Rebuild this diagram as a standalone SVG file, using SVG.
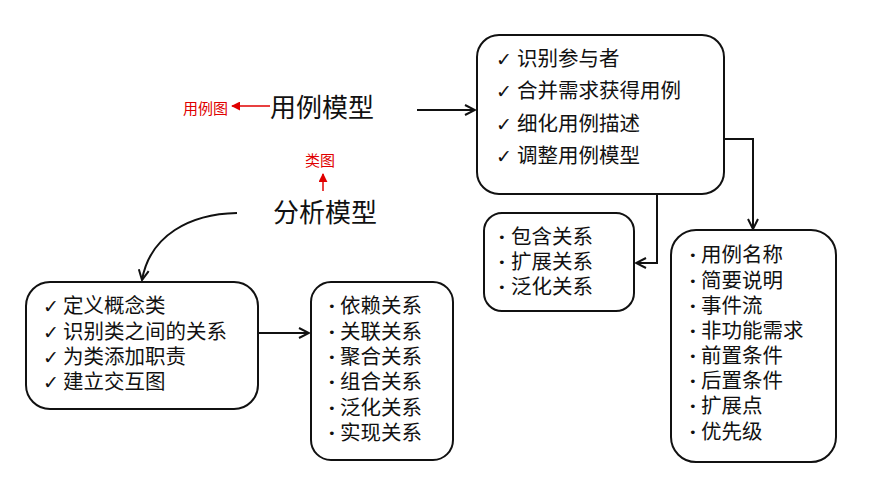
<svg xmlns="http://www.w3.org/2000/svg" width="870" height="485" viewBox="0 0 870 485">
<defs>
<style>
text{font-family:"Liberation Sans","Noto Sans CJK SC",sans-serif;fill:#111}
.item{font-size:20.5px}
.title{font-size:26px}
.red{fill:#e00000;font-size:15px}
.box{fill:#fff;stroke:#111;stroke-width:2}
.conn{fill:none;stroke:#111;stroke-width:2}
.rc{fill:none;stroke:#e00000;stroke-width:1.5}
.mk{font-family:"DejaVu Sans",sans-serif;font-size:19px;font-weight:bold}
.bl{font-family:"DejaVu Sans",sans-serif;font-size:13px}
</style>
<marker id="open" viewBox="0 0 12 12" refX="11" refY="6" markerWidth="12" markerHeight="12" markerUnits="userSpaceOnUse" orient="auto">
<path d="M1,1 L11,6 L1,11" fill="none" stroke="#111" stroke-width="2"/>
</marker>
<marker id="redhead" viewBox="0 0 10 10" refX="9" refY="5" markerWidth="9" markerHeight="9" markerUnits="userSpaceOnUse" orient="auto">
<path d="M0,0 L10,5 L0,10 Z" fill="#e00000"/>
</marker>
</defs>
<rect width="870" height="485" fill="#fff"/>

<g id="connectors">
<line class="conn" x1="417" y1="110" x2="475" y2="110" marker-end="url(#open)"/>
<polyline class="conn" points="513,139 753,139 753,229" marker-end="url(#open)"/>
<polyline class="conn" points="522,176 657,176 657,263 636,263" marker-end="url(#open)"/>
<path class="conn" d="M237,213 C190,214 150,235 142,280" marker-end="url(#open)"/>
<line class="conn" x1="243" y1="333" x2="309" y2="333" marker-end="url(#open)"/>
<line class="rc" x1="270" y1="106" x2="232" y2="106" marker-end="url(#redhead)"/>
<line class="rc" x1="323" y1="191" x2="323" y2="174" marker-end="url(#redhead)"/>
</g>

<g id="usecase-model">
<text class="title" x="270" y="117">用例模型</text>
</g>
<g id="usecase-diagram">
<text class="red" x="183" y="114">用例图</text>
</g>
<g id="class-diagram">
<text class="red" x="305" y="166">类图</text>
</g>
<g id="analysis-model">
<text class="title" x="273" y="222">分析模型</text>
</g>

<g id="box-usecase-steps">
<rect class="box" x="477" y="35" width="247" height="159" rx="22"/>
<text class="item">
<tspan class="mk" x="496" y="66">✓</tspan><tspan x="517" y="66">识别参与者</tspan>
<tspan class="mk" x="496" y="98">✓</tspan><tspan x="517" y="98">合并需求获得用例</tspan>
<tspan class="mk" x="496" y="131">✓</tspan><tspan x="517" y="131">细化用例描述</tspan>
<tspan class="mk" x="496" y="163">✓</tspan><tspan x="517" y="163">调整用例模型</tspan>
</text>
</g>

<g id="box-usecase-relations">
<rect class="box" x="484" y="213" width="150" height="98" rx="18"/>
<text class="item">
<tspan class="bl" x="498" y="242">•</tspan><tspan x="511" y="244">包含关系</tspan>
<tspan class="bl" x="498" y="267">•</tspan><tspan x="511" y="269">扩展关系</tspan>
<tspan class="bl" x="498" y="292">•</tspan><tspan x="511" y="294">泛化关系</tspan>
</text>
</g>

<g id="box-usecase-desc">
<rect class="box" x="671" y="230" width="165" height="232" rx="25"/>
<text class="item">
<tspan class="bl" x="689" y="260">•</tspan><tspan x="701" y="262">用例名称</tspan>
<tspan class="bl" x="689" y="286">•</tspan><tspan x="701" y="288">简要说明</tspan>
<tspan class="bl" x="689" y="311">•</tspan><tspan x="701" y="313">事件流</tspan>
<tspan class="bl" x="689" y="336">•</tspan><tspan x="701" y="338">非功能需求</tspan>
<tspan class="bl" x="689" y="361">•</tspan><tspan x="701" y="363">前置条件</tspan>
<tspan class="bl" x="689" y="386">•</tspan><tspan x="701" y="388">后置条件</tspan>
<tspan class="bl" x="689" y="411">•</tspan><tspan x="701" y="413">扩展点</tspan>
<tspan class="bl" x="689" y="437">•</tspan><tspan x="701" y="439">优先级</tspan>
</text>
</g>

<g id="box-analysis-steps">
<rect class="box" x="26" y="282" width="232" height="127" rx="24"/>
<text class="item">
<tspan class="mk" x="43" y="313">✓</tspan><tspan x="63" y="313">定义概念类</tspan>
<tspan class="mk" x="43" y="339">✓</tspan><tspan x="63" y="339">识别类之间的关系</tspan>
<tspan class="mk" x="43" y="364">✓</tspan><tspan x="63" y="364">为类添加职责</tspan>
<tspan class="mk" x="43" y="389">✓</tspan><tspan x="63" y="389">建立交互图</tspan>
</text>
</g>

<g id="box-class-relations">
<rect class="box" x="311" y="282" width="142" height="178" rx="20"/>
<text class="item">
<tspan class="bl" x="328" y="311">•</tspan><tspan x="340" y="313">依赖关系</tspan>
<tspan class="bl" x="328" y="337">•</tspan><tspan x="340" y="339">关联关系</tspan>
<tspan class="bl" x="328" y="362">•</tspan><tspan x="340" y="364">聚合关系</tspan>
<tspan class="bl" x="328" y="387">•</tspan><tspan x="340" y="389">组合关系</tspan>
<tspan class="bl" x="328" y="413">•</tspan><tspan x="340" y="415">泛化关系</tspan>
<tspan class="bl" x="328" y="438">•</tspan><tspan x="340" y="440">实现关系</tspan>
</text>
</g>
</svg>
